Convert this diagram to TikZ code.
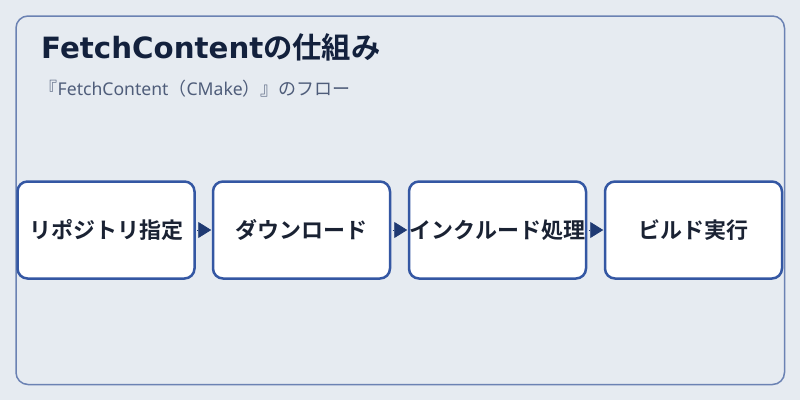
\documentclass[tikz,border=0pt]{standalone}
\usepackage{fontspec}
\setmainfont{Noto Sans CJK JP}
\newfontfamily\jpbold{Noto Sans CJK JP Bold}
\newfontfamily\latbold{DejaVu Sans Bold}
\newfontfamily\latreg{Noto Sans}
\usetikzlibrary{arrows.meta}
\definecolor{bgc}{HTML}{E6EBF1}
\definecolor{framec}{HTML}{6B82B3}
\definecolor{boxc}{HTML}{3457A3}
\definecolor{arrc}{HTML}{1F3A73}
\definecolor{titlec}{HTML}{13213D}
\definecolor{textc}{HTML}{1A2233}
\definecolor{subc}{HTML}{4F5D7A}
\tikzset{
  stepbox/.style={draw=boxc, line width=2.5pt, fill=white, rounded corners=10pt,
    minimum width=177pt, minimum height=97pt, inner sep=0pt,
    font=\jpbold\fontsize{22pt}{26pt}\selectfont, text=textc},
  flow/.style={draw=arrc, line width=0.8pt, -{Triangle[length=13pt,width=16pt]}, fill=arrc,
    shorten <=1.5pt, shorten >=0.5pt},
}
\begin{document}
\begin{tikzpicture}[x=1pt,y=-1pt]
\useasboundingbox (0,0) rectangle (800,400);
\fill[bgc] (0,0) rectangle (800,400);
\draw[framec, line width=1.5pt, rounded corners=12pt] (16,16) rectangle (784.5,384.5);
\node[anchor=base west, font=\fontsize{29.3pt}{33pt}\selectfont, text=titlec, inner sep=0pt] (title) at (41,58) {{\latbold FetchContent}{\jpbold の仕組み}};
\node[anchor=base west, font=\fontsize{18pt}{21pt}\selectfont, text=subc, inner sep=0pt] (sub) at (39.5,95.5) {『{\latreg\fontsize{17.6pt}{20pt}\selectfont FetchContent}（{\latreg\fontsize{17.6pt}{20pt}\selectfont CMake}）』のフロー};
\node[stepbox] (s1) at (106,230) {リポジトリ指定};
\node[stepbox] (s2) at (301.5,230) {ダウンロード};
\node[stepbox] (s3) at (497.5,230) {インクルード処理};
\node[stepbox] (s4) at (693.5,230) {ビルド実行};
\draw[flow] (s1) -- (s2);
\draw[flow] (s2) -- (s3);
\draw[flow] (s3) -- (s4);
\end{tikzpicture}
\end{document}
